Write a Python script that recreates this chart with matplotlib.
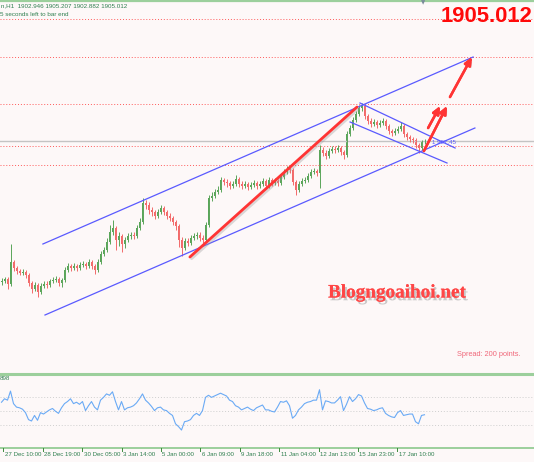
import matplotlib.pyplot as plt
import matplotlib.patheffects as pe
import matplotlib.transforms as mtransforms
from matplotlib.lines import Line2D
import numpy as np

open_first = 1764
close = [1765, 1767, 1762, 1784, 1778, 1775, 1773, 1774, 1771, 1763,
         1757, 1761, 1754, 1760, 1762, 1761, 1765, 1766, 1767, 1763,
         1766, 1776, 1780, 1778, 1780, 1778, 1781, 1782, 1780, 1784,
         1780, 1776, 1784, 1792, 1796, 1804, 1814, 1818, 1806, 1810,
         1802, 1806, 1810, 1811, 1810, 1818, 1824, 1843, 1841, 1836,
         1834, 1830, 1834, 1838, 1834, 1830, 1828, 1824, 1820, 1806,
         1798, 1805, 1803, 1808, 1810, 1811, 1808, 1806, 1821, 1848,
         1850, 1854, 1856, 1866, 1864, 1863, 1860, 1862, 1867, 1862,
         1860, 1862, 1859, 1861, 1863, 1860, 1862, 1865, 1860, 1866,
         1863, 1865, 1863, 1869, 1874, 1877, 1876, 1864, 1856, 1862,
         1865, 1866, 1870, 1874, 1875, 1873, 1896, 1893, 1890, 1895,
         1897, 1896, 1898, 1894, 1891, 1912, 1918, 1926, 1932, 1938,
         1940, 1930, 1925, 1922, 1924, 1921, 1923, 1925, 1920, 1915,
         1913, 1915, 1917, 1920, 1912, 1909, 1907, 1906, 1901, 1898,
         1904, 1905]
high = [1768, 1769, 1769, 1802, 1786, 1780, 1777, 1777, 1776, 1773,
        1765, 1764, 1763, 1763, 1765, 1765, 1767, 1769, 1770, 1769,
        1768, 1779, 1783, 1782, 1783, 1782, 1784, 1785, 1784, 1787,
        1786, 1782, 1787, 1795, 1799, 1808, 1821, 1826, 1820, 1814,
        1812, 1809, 1813, 1814, 1814, 1821, 1828, 1848, 1846, 1844,
        1839, 1836, 1837, 1841, 1840, 1836, 1833, 1830, 1826, 1822,
        1809, 1808, 1808, 1811, 1813, 1814, 1814, 1811, 1824, 1851,
        1854, 1857, 1860, 1869, 1868, 1867, 1865, 1865, 1871, 1869,
        1865, 1865, 1864, 1864, 1866, 1865, 1865, 1868, 1867, 1869,
        1868, 1868, 1867, 1872, 1877, 1880, 1880, 1878, 1866, 1865,
        1868, 1869, 1873, 1877, 1878, 1877, 1901, 1899, 1896, 1898,
        1900, 1900, 1901, 1900, 1896, 1915, 1921, 1929, 1935, 1941,
        1943, 1942, 1932, 1928, 1927, 1926, 1926, 1928, 1927, 1922,
        1917, 1918, 1920, 1924, 1922, 1914, 1911, 1909, 1908, 1903,
        1906, 1907]
low = [1761, 1763, 1757, 1760, 1775, 1772, 1771, 1771, 1768, 1760,
       1753, 1755, 1749, 1752, 1758, 1758, 1759, 1763, 1764, 1760,
       1759, 1764, 1774, 1775, 1776, 1775, 1776, 1779, 1777, 1778,
       1777, 1772, 1774, 1782, 1790, 1794, 1802, 1811, 1796, 1800,
       1794, 1798, 1804, 1807, 1807, 1808, 1816, 1822, 1837, 1832,
       1830, 1827, 1828, 1832, 1831, 1827, 1825, 1821, 1816, 1799,
       1790, 1796, 1800, 1801, 1806, 1807, 1805, 1803, 1804, 1819,
       1845, 1848, 1852, 1854, 1861, 1859, 1857, 1858, 1860, 1859,
       1857, 1858, 1856, 1857, 1859, 1857, 1858, 1860, 1857, 1858,
       1860, 1861, 1860, 1861, 1867, 1872, 1873, 1861, 1851, 1854,
       1860, 1863, 1864, 1868, 1872, 1870, 1858, 1890, 1887, 1888,
       1893, 1893, 1894, 1891, 1887, 1889, 1910, 1916, 1924, 1930,
       1935, 1927, 1922, 1919, 1920, 1918, 1919, 1921, 1917, 1912,
       1910, 1911, 1913, 1915, 1909, 1906, 1904, 1903, 1898, 1893,
       1896, 1902]
rsi = [63, 68, 66, 79, 61, 56, 55, 53, 48, 38,
       36, 44, 37, 48, 46, 49, 52, 54, 50, 47,
       55, 61, 64, 68, 61, 63, 60, 64, 51, 58,
       64, 56, 52, 66, 70, 75, 73, 78, 64, 52,
       64, 52, 55, 56, 58, 62, 68, 75, 66, 62,
       57, 51, 55, 56, 52, 51, 47, 44, 32, 28,
       23, 35, 36, 38, 44, 47, 44, 51, 70, 73,
       70, 72, 74, 76, 74, 72, 66, 64, 58, 56,
       52, 54, 56, 53, 51, 55, 57, 59, 52, 52,
       50, 49, 56, 64, 63, 65, 58, 40, 44, 52,
       56, 61, 63, 64, 66, 66, 81, 52, 65, 64,
       62, 62, 66, 71, 51, 60, 71, 64, 68, 74,
       72, 62, 54, 53, 51, 52, 54, 55, 47, 44,
       42, 41, 48, 51, 44, 45, 46, 46, 35, 32,
       44, 45]
rsi_levels = [70, 50, 30]

time_labels = ['27 Dec 10:00', '28 Dec 19:00', '30 Dec 05:00', '3 Jan 14:00',
               '5 Jan 00:00', '6 Jan 09:00', '9 Jan 18:00', '11 Jan 04:00',
               '12 Jan 13:00', '15 Jan 23:00', '17 Jan 10:00']

bid = 1905.012
red_levels = [2027, 1989, 1942, 1900, 1881]

# trendlines (bar, price)
channel_upper = [(13.8, 1802), (157.2, 1989)]
channel_lower = [(14.5, 1731), (157.8, 1918)]
fall_upper = [(119.5, 1943), (151.2, 1898)]
fall_lower = [(116.2, 1924), (148.5, 1883)]
red_trend = [(62.8, 1789), (118.5, 1939)]
red_arrows = [[(142.2, 1918), (146.2, 1940)],
              [(140.8, 1895), (148.5, 1940)],
              [(149.5, 1949), (156.8, 1989)]]

W, H = 534, 462
bg = '#fdf8f8'
green_line = '#9ccf9c'
txt_green = '#2f7f4f'
small_font = ['Liberation Sans', 'DejaVu Sans']

fig = plt.figure(figsize=(W / 100, H / 100), dpi=100, facecolor=bg)


def fy(py):
    return 1 - py / H


ax = fig.add_axes([0, fy(372), 1, (372 - 2) / H])
ax_rsi = fig.add_axes([0, fy(447), 1, (447 - 374.5) / H])
for a in (ax, ax_rsi):
    a.set_facecolor(bg)
    a.set_xlim(-0.5, 177.5)
    for s in a.spines.values():
        s.set_visible(False)
    a.set_xticks([])
    a.set_yticks([])

ax.set_ylim(1674, 2044)
ax_rsi.set_ylim(-1.4, 102.9)

# horizontal levels
for lv in red_levels:
    ax.axhline(lv, color='#ff5a5a', lw=0.7, ls=(0, (1, 2)))
ax.axhline(bid, color='#c4c4c4', lw=1.0)

# candles
c = np.array(close, dtype=float)
o = np.r_[open_first, c[:-1]]
hi = np.array(high, dtype=float)
lo = np.array(low, dtype=float)
x = np.arange(len(c))
cols = np.where(c >= o, '#5aa55a', '#f26a6a')
ax.vlines(x, lo, hi, colors=cols, lw=0.7)
ax.bar(x, np.maximum(np.abs(c - o), 0.8), bottom=np.minimum(o, c),
       width=0.6, color=cols, linewidth=0)

# blue trendlines
for ln in (channel_upper, channel_lower, fall_upper, fall_lower):
    (x0, y0), (x1, y1) = ln
    ax.plot([x0, x1], [y0, y1], color='#5a5aff', lw=0.9)

# red trend line and arrows with shadow
shadow = [pe.withSimplePatchShadow(offset=(1.2, -1.2), shadow_rgbFace='#999999', alpha=0.35),
          pe.Normal()]
(x0, y0), (x1, y1) = red_trend
ax.plot([x0, x1], [y0, y1], color='#ff3434', lw=2.0, solid_capstyle='round',
        path_effects=[pe.SimpleLineShadow(offset=(1.2, -1.2), shadow_color='#999999',
                                          alpha=0.35), pe.Normal()])
for (x0, y0), (x1, y1) in red_arrows:
    ax.annotate('', xy=(x1, y1), xytext=(x0, y0),
                arrowprops=dict(arrowstyle='-|>,head_length=0.45,head_width=0.2',
                                color='#ff3434', lw=1.8, shrinkA=0, shrinkB=0,
                                path_effects=shadow))

ax.text(143.5, 1903.5, '1 907.45', color='#5a5aff', fontsize=4.4, va='center',
        family=small_font)

# rsi panel
for lv in rsi_levels:
    ax_rsi.axhline(lv, color='#cfcfcf', lw=0.7, ls=(0, (1, 2)))
ax_rsi.plot(x, rsi, color='#6aaaf5', lw=0.8)

# frame lines
for py, lw in ((0.8, 1.6), (373.5, 2.2), (447.5, 1.4)):
    fig.add_artist(Line2D([0, 1], [fy(py), fy(py)], color=green_line, lw=lw))

# time axis
trans = mtransforms.blended_transform_factory(ax_rsi.transData, fig.transFigure)
for k, lab in enumerate(time_labels):
    tb = 0.63 + 13.13 * k
    fig.add_artist(Line2D([tb, tb], [fy(447.5), fy(450.5)], color='#3c8c3c', lw=0.7,
                          transform=trans))
    fig.text(tb + 0.5, fy(455), lab, transform=trans, fontsize=4.4, color=txt_green,
             va='center', ha='left', family=small_font)

# texts
fig.text(1 / W, fy(6), 'n,H1  1902.946 1905.207 1902.882 1905.012', fontsize=4.5,
         color=txt_green, va='center', family=small_font)
fig.text(0, fy(14), '5 seconds left to bar end', fontsize=4.5, color=txt_green,
         va='center', family=small_font)
fig.text(0, fy(379), '898', fontsize=4.5, color=txt_green, va='center', family=small_font)
fig.text(441 / W, fy(16), '1905.012', fontsize=15.8, color='#ff0a0a', weight='bold',
         va='center', ha='left', family='Liberation Sans')
fig.text(457 / W, fy(355), 'Spread: 200 points.', fontsize=5.3, color='#f0687a',
         va='center', ha='left', family='Liberation Sans')
fig.text(328 / W, fy(293), 'Blogngoaihoi.net', fontsize=13.8, color='#ff4646',
         weight='bold', va='center', ha='left', family='Liberation Serif',
         path_effects=[pe.withSimplePatchShadow(offset=(1.5, -2), shadow_rgbFace='#999999',
                                                alpha=0.5), pe.Normal()])
fig.text(423 / W, fy(3), '\u25bc', fontsize=4, color='#7a8a9a', ha='center', va='center')

fig.savefig('out.png', dpi=100, facecolor=bg)
